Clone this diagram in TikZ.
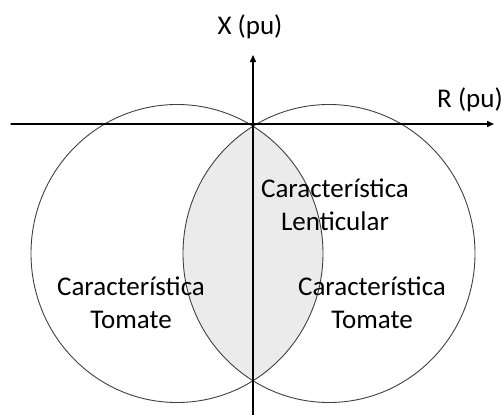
\documentclass[tikz,border=0pt]{standalone}
\usepackage{fontspec}
\setmainfont{Carlito}
\usetikzlibrary{arrows.meta}

\begin{document}
\begin{tikzpicture}[x=1pt, y=-1pt, line cap=round, line join=round,
  axis/.style={line width=1.5pt, black},
  zone/.style={line width=0.9pt, black!75},
  label/.style={anchor=center, inner sep=0pt, align=center,
                font=\fontsize{27}{33}\selectfont}]

  %% ==== lenticular zone (fill = overlap of the two circles) ====
  \begin{scope}
    \clip (177,253.5) ellipse (146 and 149);
    \fill[black!8] (329,253.5) ellipse (146 and 149);
  \end{scope}

  %% ==== tomato circles ====
  \draw[zone] (177,253.5) ellipse (146 and 149);
  \draw[zone] (329,253.5) ellipse (146 and 149);

  %% ==== axes ====
  \coordinate (Rs) at (11,124);
  \coordinate (Re) at (494,124);
  \coordinate (Xs) at (253,415);
  \coordinate (Xe) at (253,55);
  \draw[axis, -{Triangle[length=7pt,width=6pt]}] (Rs) -- (Re);
  \draw[axis, -{Triangle[length=7pt,width=6pt]}] (Xs) -- (Xe);

  %% ==== labels ====
  \node[label] (xlab) at (250,27) {X (pu)};
  \node[label] (rlab) at (470,100) {R (pu)};
  \node[label] (lens) at (335,205) {Característica\\Lenticular};
  \node[label] (tomL) at (131,303) {Característica\\Tomate};
  \node[label] (tomR) at (372,303) {Característica\\Tomate};

  % fix canvas
  \pgfresetboundingbox
  \path[use as bounding box] (0,0) rectangle (504,415);
\end{tikzpicture}
\end{document}
